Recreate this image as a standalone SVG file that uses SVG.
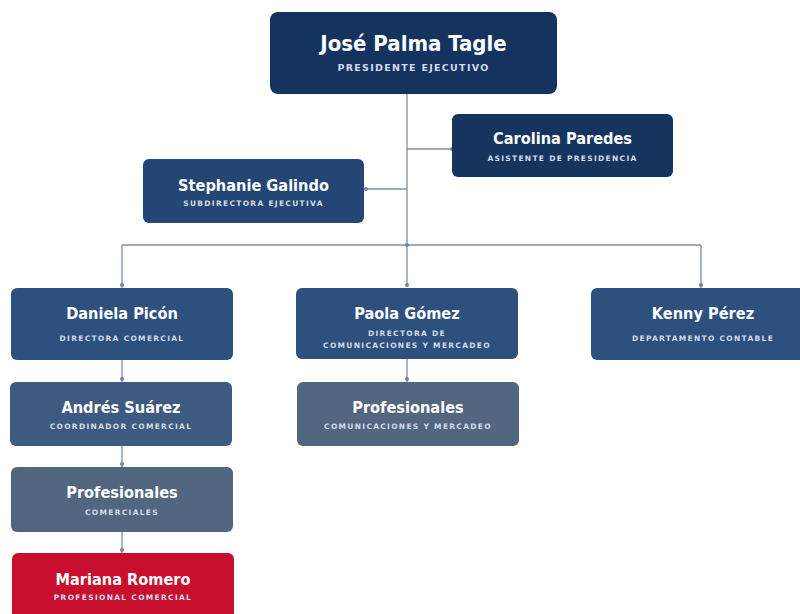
<svg xmlns="http://www.w3.org/2000/svg" width="800" height="614" viewBox="0 0 800 614">
<style>
.n{font-family:"DejaVu Sans Condensed","DejaVu Sans",sans-serif;font-weight:bold;fill:#fff;text-anchor:middle}
.s{font-family:"DejaVu Sans","Liberation Sans",sans-serif;font-weight:bold;fill:#d3dbe8;text-anchor:middle;letter-spacing:1.3px}
.c{stroke:#7c8fae;stroke-width:1.3;fill:none}
.d{fill:#6d83a6}
</style>
<rect width="800" height="614" fill="#fff"/>
<g id="connectors">
<path class="c" d="M407 94V286M407 149H452M366 189H407M122 245H701M122 245V288M701 245V288M122 360V382M407 359V382M122 446V467M122 532V553"/>
<circle class="d" cx="452" cy="149" r="2"/>
<circle class="d" cx="366" cy="189" r="2"/>
<circle class="d" cx="407" cy="245" r="2"/>
<circle class="d" cx="122" cy="285" r="2"/>
<circle class="d" cx="407" cy="285" r="2"/>
<circle class="d" cx="701" cy="285" r="2"/>
<circle class="d" cx="122" cy="379" r="2"/>
<circle class="d" cx="407" cy="379" r="2"/>
<circle class="d" cx="122" cy="464" r="2"/>
<circle class="d" cx="122" cy="550" r="2"/>
</g>
<g id="jose">
<rect x="270" y="12" width="287" height="82" rx="8" fill="#14335f"/>
<text class="n" x="413.5" y="51" font-size="22">José Palma Tagle</text>
<text class="s" x="413.5" y="71" font-size="9.5" letter-spacing="2.6">PRESIDENTE EJECUTIVO</text>
</g>
<g id="carolina">
<rect x="452" y="114" width="221" height="63" rx="6" fill="#15355f"/>
<text class="n" x="562.5" y="144" font-size="16.2">Carolina Paredes</text>
<text class="s" x="562.5" y="161" font-size="7.5">ASISTENTE DE PRESIDENCIA</text>
</g>
<g id="stephanie">
<rect x="143" y="159" width="221" height="64" rx="6" fill="#244674"/>
<text class="n" x="253.5" y="191" font-size="16.2">Stephanie Galindo</text>
<text class="s" x="253.5" y="206" font-size="7.5">SUBDIRECTORA EJECUTIVA</text>
</g>
<g id="daniela">
<rect x="11" y="288" width="222" height="72" rx="6" fill="#2e507f"/>
<text class="n" x="122" y="319" font-size="16.2">Daniela Picón</text>
<text class="s" x="122" y="341" font-size="7.5">DIRECTORA COMERCIAL</text>
</g>
<g id="paola">
<rect x="296" y="288" width="222" height="71" rx="6" fill="#2e507f"/>
<text class="n" x="407" y="319" font-size="16.2">Paola Gómez</text>
<text class="s" x="407" y="336" font-size="7.5">DIRECTORA DE</text>
<text class="s" x="407" y="348" font-size="7.5">COMUNICACIONES Y MERCADEO</text>
</g>
<g id="kenny">
<rect x="591" y="288" width="220" height="72" rx="6" fill="#2e507f"/>
<text class="n" x="703" y="319" font-size="16.2">Kenny Pérez</text>
<text class="s" x="703" y="341" font-size="7.5">DEPARTAMENTO CONTABLE</text>
</g>
<g id="andres">
<rect x="10" y="382" width="222" height="64" rx="6" fill="#3e5a80"/>
<text class="n" x="121" y="413" font-size="16.2">Andrés Suárez</text>
<text class="s" x="121" y="429" font-size="7.5">COORDINADOR COMERCIAL</text>
</g>
<g id="prof-cym">
<rect x="297" y="382" width="222" height="64" rx="6" fill="#52667f"/>
<text class="n" x="408" y="413" font-size="16.2">Profesionales</text>
<text class="s" x="408" y="429" font-size="7.5">COMUNICACIONES Y MERCADEO</text>
</g>
<g id="prof-com">
<rect x="11" y="467" width="222" height="65" rx="6" fill="#52667f"/>
<text class="n" x="122" y="498" font-size="16.2">Profesionales</text>
<text class="s" x="122" y="515" font-size="7.5">COMERCIALES</text>
</g>
<g id="mariana">
<rect x="12" y="553" width="222" height="70" rx="6" fill="#c8102e"/>
<text class="n" x="123" y="585" font-size="16.2">Mariana Romero</text>
<text class="s" x="123" y="600" font-size="7.5" fill="#f3d0d6">PROFESIONAL COMERCIAL</text>
</g>
</svg>
